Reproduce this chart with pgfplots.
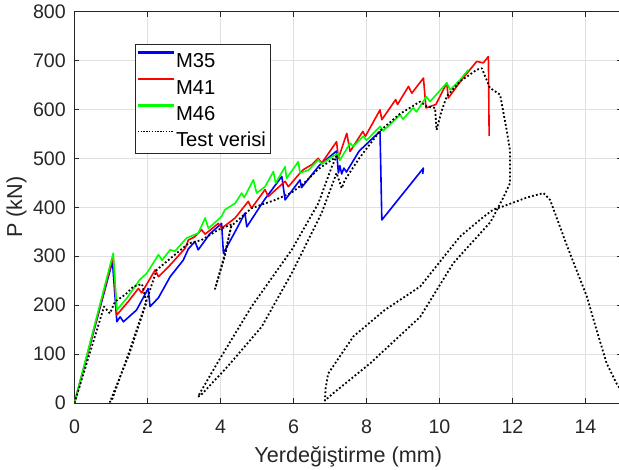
\documentclass[border=0pt]{standalone}
\usepackage{fontspec}
\setmainfont{Liberation Sans}
\usepackage{pgfplots}
\pgfplotsset{compat=1.18}
\definecolor{axgray}{RGB}{38,38,38}
\definecolor{gridgray}{RGB}{224,224,224}
\definecolor{mblue}{RGB}{0,0,255}
\definecolor{mred}{RGB}{255,0,0}
\definecolor{mgreen}{RGB}{0,255,0}
\begin{document}
\begin{tikzpicture}
\begin{axis}[
  at={(0pt,0pt)}, anchor=south west,
  scale only axis,
  width=547.5pt, height=391.5pt,
  xmin=0, xmax=15, ymin=0, ymax=800,
  xtick={0,2,...,14}, ytick={0,100,...,800},
  grid=major, grid style={gridgray, line width=0.8pt},
  axis line style={axgray, line width=0.8pt},
  tick style={axgray, line width=0.8pt},
  tick align=inside, major tick length=5pt,
  /pgf/number format/assume math mode=true,
  tick label style={font=\fontsize{19.6}{23}\selectfont, text=axgray},
  xticklabel style={anchor=north, inner sep=0pt, yshift=-17pt},
  yticklabel style={anchor=east, inner sep=0pt, xshift=-8.5pt},
  xlabel={Yerdeğiştirme (mm)},
  ylabel={P (kN)},
  every axis x label/.style={at={(axis description cs:0.5,-0.152)}, anchor=base, font=\fontsize{21.6}{25}\selectfont, text=axgray},
  every axis y label/.style={at={(axis description cs:-0.0955,0.5)}, rotate=90, anchor=base, font=\fontsize{21.6}{25}\selectfont, text=axgray},
  legend cell align={left},
  legend style={at={(axis description cs:0.1105,0.917)}, anchor=north west, draw=axgray, fill=white,
    font=\fontsize{20.2}{23}\selectfont, inner xsep=2pt, inner ysep=2pt, row sep=0pt,
    nodes={inner xsep=2.5pt, inner ysep=3.5pt, text height=18.3pt, text depth=1pt}},
]
\addlegendimage{legend image code/.code={\fill[mblue] (0pt,6.2pt) rectangle (35pt,7.8pt);}}
\addlegendimage{legend image code/.code={\fill[mred] (0pt,6.2pt) rectangle (35pt,7.8pt);}}
\addlegendimage{legend image code/.code={\fill[mgreen] (0pt,6.2pt) rectangle (35pt,7.8pt);}}
\addlegendimage{legend image code/.code={\draw[black, line width=1.4pt, dash pattern=on 1.4pt off 1.4pt] (0pt,7pt) -- (35pt,7pt);}}
\legend{M35,M41,M46,Test verisi}
% M35
\addplot[mblue, line width=1.6pt, line join=round, forget plot] coordinates {
(0,0) (1.04,289) (1.16,166) (1.25,176) (1.34,166) (1.7,190) (2.02,234) (2.07,197)
(2.3,215) (2.62,258) (2.98,292) (3.12,315) (3.3,330) (3.39,313) (3.7,345) (4.03,367)
(4.08,306) (4.4,350) (4.67,388) (4.72,360) (5.2,415) (5.68,463) (5.77,415) (6.18,456)
(6.22,440) (6.7,485) (7.18,515) (7.23,470) (7.27,485) (7.32,468) (7.38,480) (7.45,472)
(7.8,515) (8.37,555) (8.42,374) (9.56,480) (9.54,468)
};
% M41
\addplot[mred, line width=1.6pt, line join=round, forget plot] coordinates {
(0,0) (1.06,300) (1.16,180) (1.47,207) (1.75,234) (1.84,225) (2.21,272) (2.3,258)
(2.62,282) (3.03,316) (3.12,333) (3.3,340) (3.48,354) (3.58,345) (3.94,367) (4.03,357)
(4.4,378) (4.76,412) (4.85,398) (5.22,436) (5.31,422) (5.77,453) (5.86,442) (6.18,470)
(6.27,477) (6.5,487) (6.68,500) (6.77,490) (7.18,534) (7.23,500) (7.46,551) (7.55,514)
(7.9,555) (7.97,545) (8.37,599) (8.42,579) (8.8,620) (8.85,610) (9.15,647) (9.24,633)
(9.56,664) (9.63,603) (9.9,610) (10.2,654) (10.24,623) (10.6,660) (11.02,698) (11.2,695)
(11.34,708) (11.36,546)
};
% M46
\addplot[mgreen, line width=1.6pt, line join=round, forget plot] coordinates {
(0,0) (1.06,306) (1.16,190) (1.43,214) (1.79,252) (1.98,265) (2.3,303) (2.4,292)
(2.62,313) (2.75,310) (3.07,337) (3.39,347) (3.58,378) (3.67,357) (4.03,381) (4.12,395)
(4.4,408) (4.58,429) (4.65,420) (4.9,456) (4.99,429) (5.22,442) (5.45,473) (5.51,449)
(5.77,483) (5.81,459) (6.13,493) (6.18,470) (6.41,476) (6.68,497) (6.77,488) (7.05,503)
(7.23,510) (7.27,496) (7.55,531) (7.64,524) (7.91,545) (8.0,537) (8.37,565) (8.46,556)
(8.92,589) (9.0,580) (9.28,603) (9.37,595) (9.64,626) (9.74,616) (10.2,654) (10.29,640)
(10.56,660) (10.79,681)
};
% Test verisi
\addplot[black, line width=1.8pt, dash pattern=on 1.8pt off 2.2pt, line join=round, forget plot] coordinates {
(0,0) (0.81,197) (0.97,183) (1.11,207) (1.4,222) (1.61,238) (1.85,243) (1.97,205)
(1.5,100) (0.97,2) (1.02,5) (1.5,105) (2.0,215) (2.25,272) (2.62,295) (3.12,326)
(3.48,333) (3.94,354) (4.3,365) (4.12,300) (3.85,233) (4.1,300) (4.3,362) (4.85,398)
(5.5,415) (5.95,430) (6.3,450) (6.68,478) (7.05,497) (7.18,504) (7.05,483) (6.68,408)
(5.95,313) (4.85,197) (3.9,80) (3.38,13) (3.45,15) (4.2,75) (5.13,156) (5.95,265)
(6.77,388) (7.18,470) (7.32,439) (7.41,456) (7.8,500) (8.37,556) (8.9,590) (9.47,616)
(9.65,606) (9.88,603) (9.92,558) (10.05,595) (10.2,627) (10.56,657) (11.02,681) (11.16,684)
(11.38,644) (11.66,630) (11.84,558) (11.93,517) (11.93,449) (11.75,420) (11.4,370) (10.38,286)
(9.47,176) (8.1,81) (7.09,20) (6.86,5) (6.88,30) (6.95,60) (7.64,136) (8.5,190)
(9.47,238) (10.56,340) (11.2,380) (11.47,395) (11.71,401) (12.4,420) (12.85,429) (13.03,415)
(13.5,320) (14.04,217) (14.3,150) (14.58,81) (14.85,40) (15.2,0)
};
\end{axis}
\pgfresetboundingbox
\path[use as bounding box] (-74.5pt,-66pt) rectangle (544.5pt,403pt);
\end{tikzpicture}
\end{document}
